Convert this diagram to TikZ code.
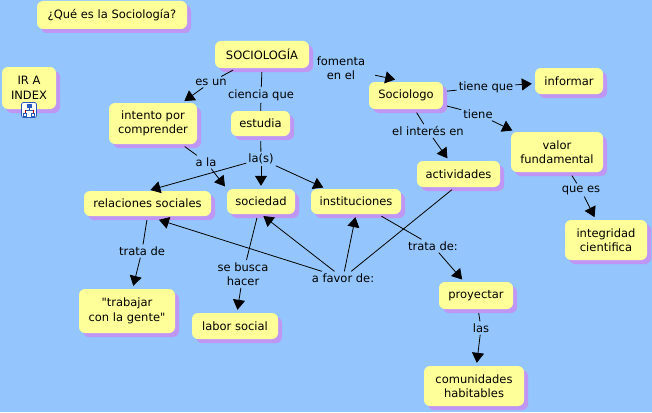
\documentclass[tikz,border=0pt]{standalone}
\usepackage{fontspec}
\newfontfamily\mapfont{DejaVu Sans}
\usetikzlibrary{arrows.meta,shadows,backgrounds}
\definecolor{mapsky}{RGB}{148,198,253}
\definecolor{mapyellow}{RGB}{255,255,153}
\definecolor{mapshadow}{RGB}{192,150,245}
\definecolor{iconblue}{RGB}{40,90,190}
\tikzset{
  concept/.style={fill=mapyellow, rounded corners=6pt, align=center, inner sep=0pt,
    font=\mapfont\fontsize{11.5}{14.5}\selectfont,
    drop shadow={shadow xshift=4pt, shadow yshift=-4pt, opacity=1, fill=mapshadow}},
  phrase/.style={align=center, inner sep=2pt, font=\mapfont\fontsize{11.5}{14.5}\selectfont},
  link/.style={black, line width=0.8pt},
  linkto/.style={link, ->, shorten >=3pt}
}
\begin{document}
\begin{tikzpicture}[x=1pt, y=-1pt, >={Triangle[length=10pt,width=12pt]}]
    \useasboundingbox (0,0) rectangle (652,412);

    % Concepts
    \node[concept, minimum width=150pt, minimum height=28pt] (title) at (112,15) {¿Qué es la Sociología?};
    \node[concept, minimum width=54pt, minimum height=42pt] (index) at (29,88) {IR A\\INDEX};
    \node[concept, minimum width=94pt, minimum height=27pt] (socio) at (262,54.5) {SOCIOLOGÍA};
    \node[concept, minimum width=88pt, minimum height=41pt] (intento) at (153,123.5) {intento por\\comprender};
    \node[concept, minimum width=59pt, minimum height=25pt] (estudia) at (260.5,123.5) {estudia};
    \node[concept, minimum width=127pt, minimum height=25pt] (relaciones) at (147.5,203.5) {relaciones sociales};
    \node[concept, minimum width=68pt, minimum height=25pt] (sociedad) at (261,201.5) {sociedad};
    \node[concept, minimum width=90pt, minimum height=25pt] (instituciones) at (356,201.5) {instituciones};
    \node[concept, minimum width=74pt, minimum height=27pt] (sociologo) at (406,95.5) {Sociologo};
    \node[concept, minimum width=68pt, minimum height=26pt] (informar) at (569,81) {informar};
    \node[concept, minimum width=92pt, minimum height=40pt] (valor) at (557,152) {valor\\fundamental};
    \node[concept, minimum width=83pt, minimum height=26pt] (actividades) at (458.5,174) {actividades};
    \node[concept, minimum width=82pt, minimum height=40pt] (integridad) at (606,240) {integridad\\cientifica};
    \node[concept, minimum width=96pt, minimum height=44pt] (trabajar) at (127,311) {"trabajar\\con la gente"};
    \node[concept, minimum width=86pt, minimum height=26pt] (labor) at (235,326) {labor social};
    \node[concept, minimum width=74pt, minimum height=27pt] (proyectar) at (476,295.5) {proyectar};
    \node[concept, minimum width=100pt, minimum height=40pt] (comunidades) at (474,386) {comunidades\\habitables};

    % Linking phrases
    \node[phrase] (esun) at (211,82) {es un};
    \node[phrase] (ciencia) at (261,95) {ciencia que};
    \node[phrase] (las1) at (261,159) {la(s)};
    \node[phrase] (ala) at (206,162) {a la};
    \node[phrase] (tratade1) at (142,251) {trata de};
    \node[phrase] (busca) at (243,274) {se busca\\hacer};
    \node[phrase] (favor) at (343,278) {a favor de:};
    \node[phrase] (tratade2) at (433,246) {trata de:};
    \node[phrase] (las2) at (481,328) {las};
    \node[phrase] (fomenta) at (341,68) {fomenta\\en el};
    \node[phrase] (tieneque) at (486,87) {tiene que};
    \node[phrase] (tiene) at (478,114) {tiene};
    \node[phrase] (interes) at (428,131) {el interés en};
    \node[phrase] (quees) at (581,190) {que es};

    % Icon under the index box
    \node[draw=iconblue, fill=white, rounded corners=2pt, line width=0.8pt, minimum size=15pt, inner sep=0pt] (icon) at (29,110) {};
    \fill[iconblue] (26.5,103.5) rectangle (31.5,107.5);
    \draw[iconblue, line width=0.6pt] (29,107.5) -- (29,110) (25,110) -- (33,110);
    \draw[red!70!black, line width=0.6pt] (25,110) -- (25,113) (33,110) -- (33,113);
    \draw[iconblue, line width=0.6pt] (23.5,113) rectangle (26.5,116) (31.5,113) rectangle (34.5,116);

    % Connectors
    \draw[link, shorten <=4pt] (socio) -- (esun);
    \draw[linkto] (esun) -- (intento);
    \draw[link, shorten <=4pt] (socio.south) -- (ciencia);
    \draw[link] (ciencia) -- (estudia);
    \draw[link, shorten <=5pt] (estudia) -- (las1);
    \draw[linkto] (las1) -- (relaciones.north);
    \draw[linkto] (las1) -- (sociedad.north);
    \draw[linkto] (las1) -- (instituciones.157);
    \draw[link, shorten <=4pt] (intento) -- (ala);
    \draw[linkto] (ala) -- (sociedad.north west);
    \draw[link, shorten <=4pt] (relaciones.south) -- (tratade1);
    \draw[linkto] (tratade1) -- (trabajar);
    \draw[link, shorten <=4pt] (sociedad) -- (busca);
    \draw[linkto] (busca) -- (labor);
    \draw[linkto, shorten >=12pt] (favor) -- (relaciones.south);
    \draw[linkto] (favor) -- (sociedad.south);
    \draw[linkto] (favor) -- (instituciones.south);
    \draw[link, shorten <=4pt] (actividades.255) -- (favor);
    \draw[link, shorten <=4pt] (instituciones) -- (tratade2);
    \draw[linkto] (tratade2) -- (proyectar);
    \draw[link, shorten <=4pt] (proyectar) -- (las2);
    \draw[linkto] (las2) -- (comunidades);
    \draw[linkto, shorten <=8pt, shorten >=11pt] (fomenta) -- (sociologo.north);
    \draw[link, shorten <=4pt] (sociologo) -- (tieneque);
    \draw[linkto] (tieneque) -- (informar);
    \draw[link, shorten <=4pt] (sociologo) -- (tiene);
    \draw[linkto] (tiene) -- (valor);
    \draw[link, shorten <=4pt] (sociologo) -- (interes);
    \draw[linkto] (interes) -- (actividades);
    \draw[link, shorten <=4pt] (valor) -- (quees);
    \draw[linkto] (quees) -- (integridad);

    % Sky behind everything, and the one link hidden by the shadow
    \begin{scope}[on background layer]
        \fill[mapsky] (0,0) rectangle (652,412);
        \draw[link, shorten >=2pt] (socio) -- (fomenta);
    \end{scope}
\end{tikzpicture}
\end{document}
